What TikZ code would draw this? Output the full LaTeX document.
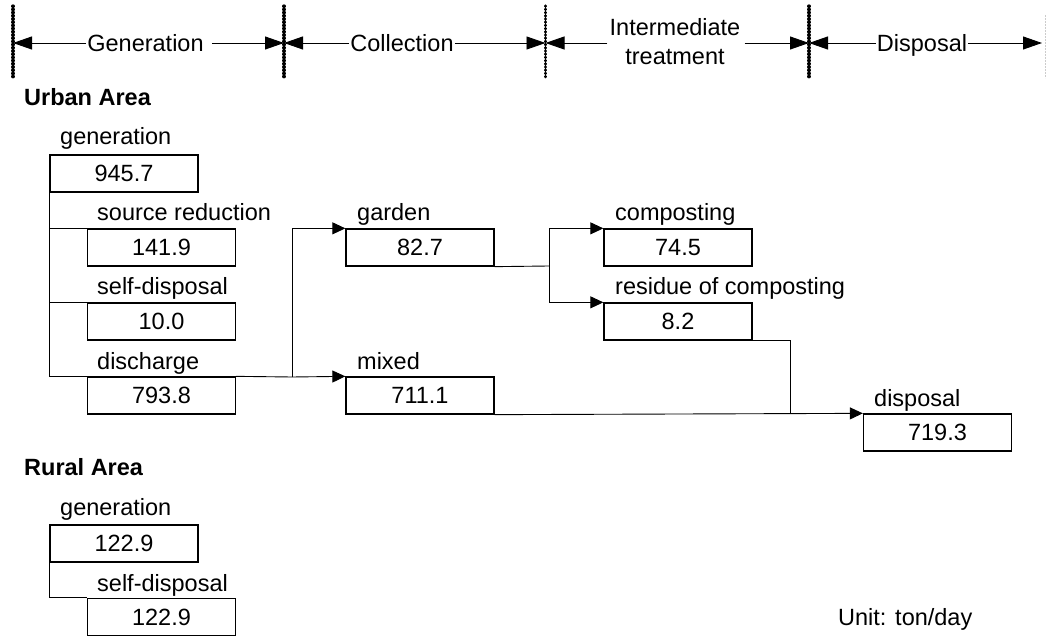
\documentclass[tikz,border=0pt]{standalone}
\usepackage{fontspec}
\setmainfont{Liberation Sans}
\usetikzlibrary{arrows.meta}
\begin{document}
\begin{tikzpicture}[x=1pt,y=-1pt,
  every node/.style={font=\fontsize{23.5}{29}\selectfont, text=black},
  valbox/.style={draw, line width=1.3pt, minimum width=148pt, minimum height=37pt, inner sep=0pt},
  lbl/.style={anchor=base west, inner sep=0pt},
  head/.style={anchor=base, inner sep=0pt},
  area/.style={anchor=base west, inner sep=0pt, font=\fontsize{23.5}{29}\selectfont\bfseries},
  conn/.style={line width=0.9pt},
  flow/.style={line width=0.9pt, -{Triangle[length=13pt,width=12pt]}},
  harrow/.style={line width=0.9pt, -{Triangle[length=19pt,width=13pt]}},
  divider/.style={line width=3.2pt, line cap=round, dash pattern=on 0.4pt off 2.8pt}
]
\useasboundingbox (0,0) rectangle (1047,636);

% ---- header ----
\coordinate (d1) at (13,43);
\coordinate (d2) at (284,43);
\coordinate (d3) at (545.5,43);
\coordinate (d4) at (809,43);
\coordinate (d5) at (1042,43);
\draw[divider] (13,6) -- (13,79);
\draw[divider] (284,6) -- (284,79);
\draw[divider] (545.5,6) -- (545.5,79);
\draw[divider] (809,6) -- (809,79);
\draw[gray!40, line width=1pt, dash pattern=on 2pt off 1pt] (1045,15) -- (1045,78);

\node[head] (h1) at (145.5,52) {Generation};
\node[head] (h2) at (402,52) {Collection};
\node[align=center, inner sep=0pt] (h3) at (675,42) {Intermediate\\treatment};
\node[head] (h4) at (922,52) {Disposal};

\draw[harrow] ([xshift=-1pt]h1.west |- d1) -- (d1);
\draw[harrow] ([xshift=8pt]h1.east |- d2) -- (d2);
\draw[harrow] ([xshift=-1pt]h2.west |- d2) -- (d2);
\draw[harrow] ([xshift=1pt]h2.east |- d3) -- (d3);
\draw[harrow] ([xshift=-2pt]h3.west |- d3) -- (d3);
\draw[harrow] ([xshift=4pt]h3.east |- d4) -- (d4);
\draw[harrow] ([xshift=-1pt]h4.west |- d4) -- (d4);
\draw[harrow] ([xshift=1pt]h4.east |- d5) -- (d5);

% ---- urban area ----
\node[area] (urban) at (24,106) {Urban Area};

\node[lbl] (lgen) at (60,145) {generation};
\node[valbox] (ugen) at (124,173.5) {945.7};
\node[lbl] (lsrc) at (97,221) {source reduction};
\node[valbox] (usrc) at (161.5,247.5) {141.9};
\node[lbl] (lself) at (97,295) {self-disposal};
\node[valbox] (uself) at (161.5,321.5) {10.0};
\node[lbl] (ldis) at (97,369) {discharge};
\node[valbox] (udis) at (161.5,395.5) {793.8};

\node[lbl] (lgar) at (357,221) {garden};
\node[valbox] (gar) at (420,247.5) {82.7};
\node[lbl] (lmix) at (357,369) {mixed};
\node[valbox] (mix) at (420,395.5) {711.1};

\node[lbl] (lcomp) at (615,221) {composting};
\node[valbox] (comp) at (678,247.5) {74.5};
\node[lbl] (lres) at (615,295) {residue of composting};
\node[valbox] (res) at (678,321.5) {8.2};

\node[lbl] (ldisp) at (874,406) {disposal};
\node[valbox] (disp) at (937.5,432.5) {719.3};

\draw[conn] (ugen.south west) |- (usrc.north west);
\draw[conn] (ugen.south west) |- (uself.north west);
\draw[conn] (ugen.south west) |- (udis.north west);

\coordinate (j1) at (292,377);
\draw[conn] (udis.north east) -- (j1);
\draw[flow] (j1) |- (gar.north west);
\draw[flow] (j1) -- (mix.north west);

\coordinate (j2) at (549,266);
\draw[conn] (gar.south east) -- (j2);
\draw[flow] (j2) |- (comp.north west);
\draw[flow] (j2) |- (res.north west);

\coordinate (j3) at (790,414);
\draw[conn] (res.south east) -| (j3);
\draw[flow] (mix.south east) -- (disp.north west);

% ---- rural area ----
\node[area] (rural) at (24,475) {Rural Area};
\node[lbl] (lrgen) at (60,515) {generation};
\node[valbox] (rgen) at (124,543.5) {122.9};
\node[lbl] (lrself) at (97,591) {self-disposal};
\node[valbox] (rself) at (161.5,617) {122.9};
\draw[conn] (rgen.south west) |- (rself.north west);

\node[lbl] (unit) at (838,625) {Unit: ton/day};
\end{tikzpicture}
\end{document}
